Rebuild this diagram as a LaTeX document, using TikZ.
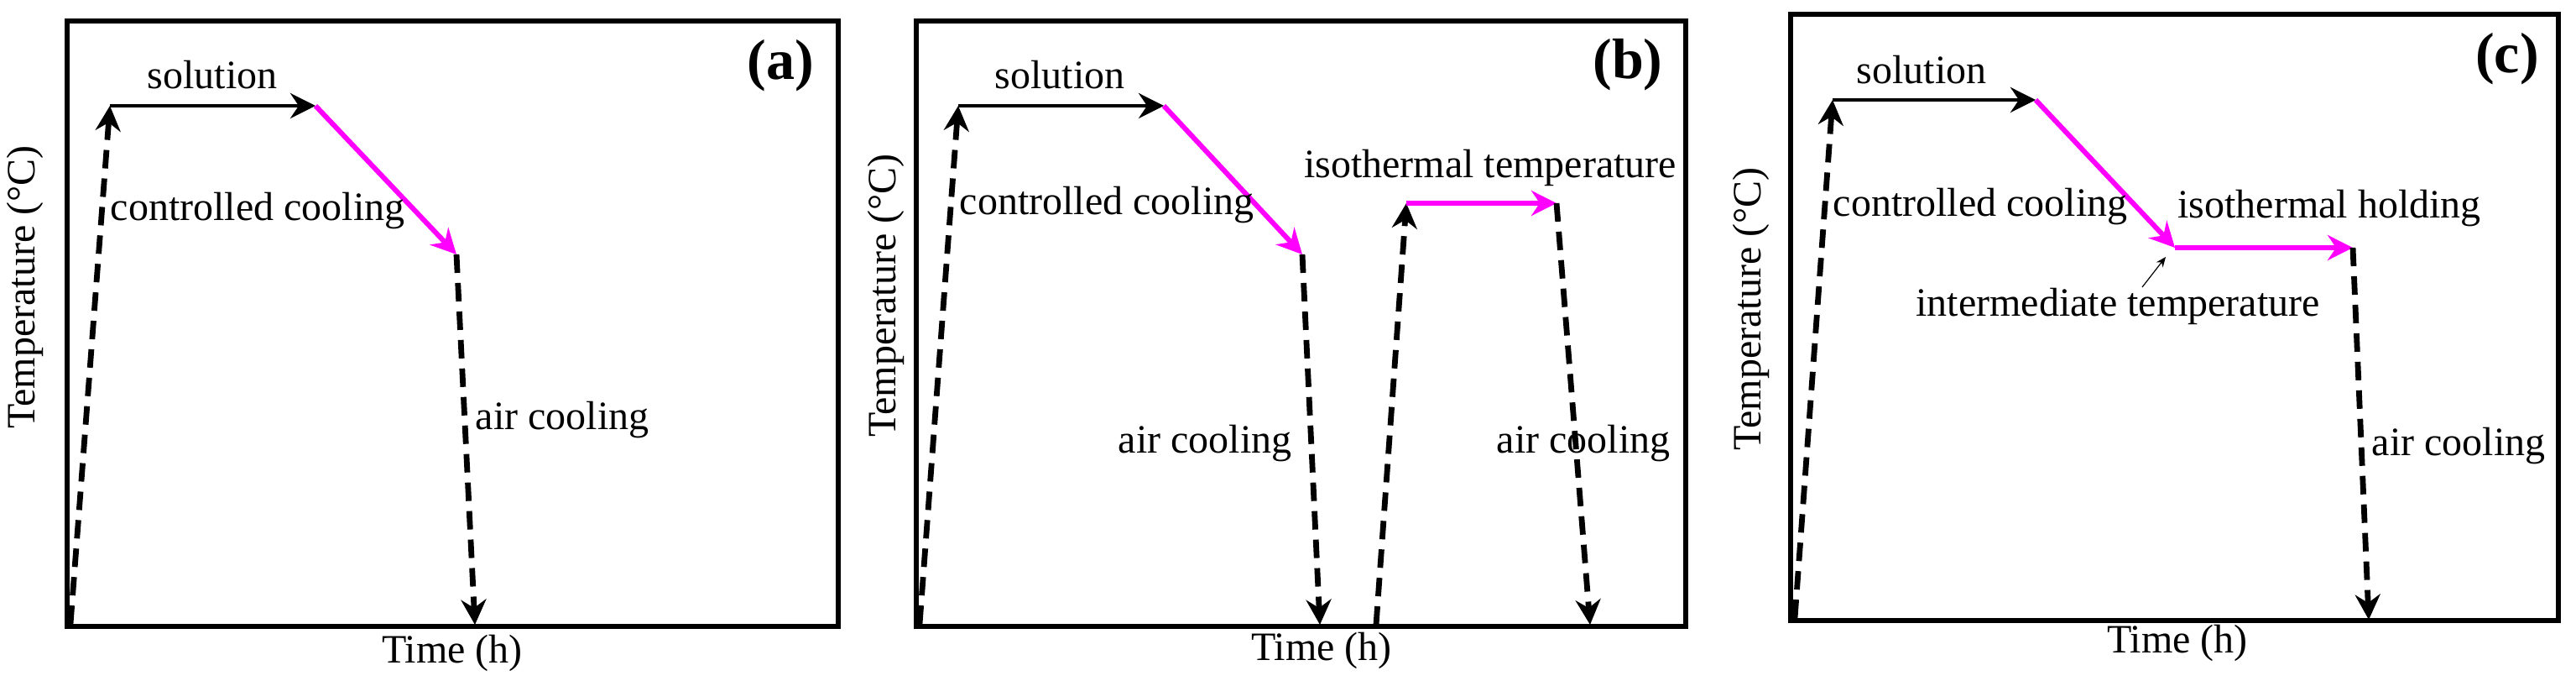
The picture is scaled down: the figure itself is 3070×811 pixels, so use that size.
\documentclass[tikz,border=0pt]{standalone}
\usepackage{fontspec}
\setmainfont{Liberation Serif}
\usetikzlibrary{arrows.meta}
\definecolor{mag}{RGB}{255,0,255}
\tikzset{
  frame/.style={line width=1.3pt},
  lbl/.style={font=\fontsize{12}{14}\selectfont, inner sep=0pt},
  tag/.style={font=\fontsize{17}{19}\selectfont\bfseries, inner sep=0pt},
  tip/.style={-{Stealth[length=7.5pt,width=7.5pt,inset=2.5pt]}},
  hold/.style={tip, line width=1.15pt, black},
  ctrl/.style={tip, line width=1.5pt, mag},
  air/.style={tip, line width=1.7pt, dash pattern=on 5.5pt off 3pt},
  thin/.style={-{Stealth[length=3pt,width=2.5pt]}, line width=0.3pt}
}
\begin{document}
\begin{tikzpicture}[x=0.25pt,y=-0.25pt]
\useasboundingbox (0,0) rectangle (3070,811);
% ---------- panel (a)
\draw[frame] (80,25) rectangle (999,746);
\coordinate (a0) at (84,743);
\coordinate (a1) at (131,126);
\coordinate (a2) at (376,126);
\coordinate (a3) at (544,303);
\coordinate (a4) at (566,744);
\draw[air] (a0) -- (a1);
\draw[hold] (a1) -- (a2);
\draw[ctrl] (a2) -- (a3);
\draw[air] (a3) -- (a4);
\node[lbl] (asol) at (253,89) {solution};
\node[lbl] (acc) at (307,251) {controlled cooling};
\node[lbl] (aair) at (670,500) {air cooling};
\node[tag] (atag) at (930,78) {(a)};
\node[lbl] (atime) at (539,778) {Time (h)};
\node[lbl, rotate=90] (atemp) at (30,342) {Temperature (°C)};
% ---------- panel (b)
\draw[frame] (1092,25) rectangle (2009,746);
\coordinate (b0) at (1096,743);
\coordinate (b1) at (1142,126);
\coordinate (b2) at (1387,126);
\coordinate (b3) at (1552,303);
\coordinate (b4) at (1573,744);
\coordinate (b5) at (1640,744);
\coordinate (b6) at (1676,242);
\coordinate (b7) at (1855,242);
\coordinate (b8) at (1895,744);
\draw[air] (b0) -- (b1);
\draw[hold] (b1) -- (b2);
\draw[ctrl] (b2) -- (b3);
\draw[air] (b3) -- (b4);
\draw[air] (b5) -- (b6);
\draw[ctrl] (b6) -- (b7);
\draw[air] (b7) -- (b8);
\node[lbl] (bsol) at (1263,89) {solution};
\node[lbl] (bcc) at (1319,244) {controlled cooling};
\node[lbl] (bair1) at (1436,528) {air cooling};
\node[lbl] (biso) at (1776,200) {isothermal temperature};
\node[lbl] (bair2) at (1887,528) {air cooling};
\node[tag] (btag) at (1940,77) {(b)};
\node[lbl] (btime) at (1575,775) {Time (h)};
\node[lbl, rotate=90] (btemp) at (1056,352) {Temperature (°C)};
% ---------- panel (c)
\draw[frame] (2134,17) rectangle (3049,739);
\coordinate (c0) at (2139,736);
\coordinate (c1) at (2184,119);
\coordinate (c2) at (2426,119);
\coordinate (c3) at (2592,295);
\coordinate (c4) at (2804,295);
\coordinate (c5) at (2823,738);
\coordinate (cp0) at (2553,342);
\coordinate (cp1) at (2581,306);
\draw[air] (c0) -- (c1);
\draw[hold] (c1) -- (c2);
\draw[ctrl] (c2) -- (c3);
\draw[ctrl] (c3) -- (c4);
\draw[air] (c4) -- (c5);
\draw[thin] (cp0) -- (cp1);
\node[lbl] (csol) at (2290,83) {solution};
\node[lbl] (ccc) at (2360,246) {controlled cooling};
\node[lbl] (ciso) at (2776,248) {isothermal holding};
\node[lbl] (cint) at (2524,365) {intermediate temperature};
\node[lbl] (cair) at (2930,531) {air cooling};
\node[tag] (ctag) at (2988,70) {(c)};
\node[lbl] (ctime) at (2595,766) {Time (h)};
\node[lbl, rotate=90] (ctemp) at (2087,368) {Temperature (°C)};
\end{tikzpicture}
\end{document}
